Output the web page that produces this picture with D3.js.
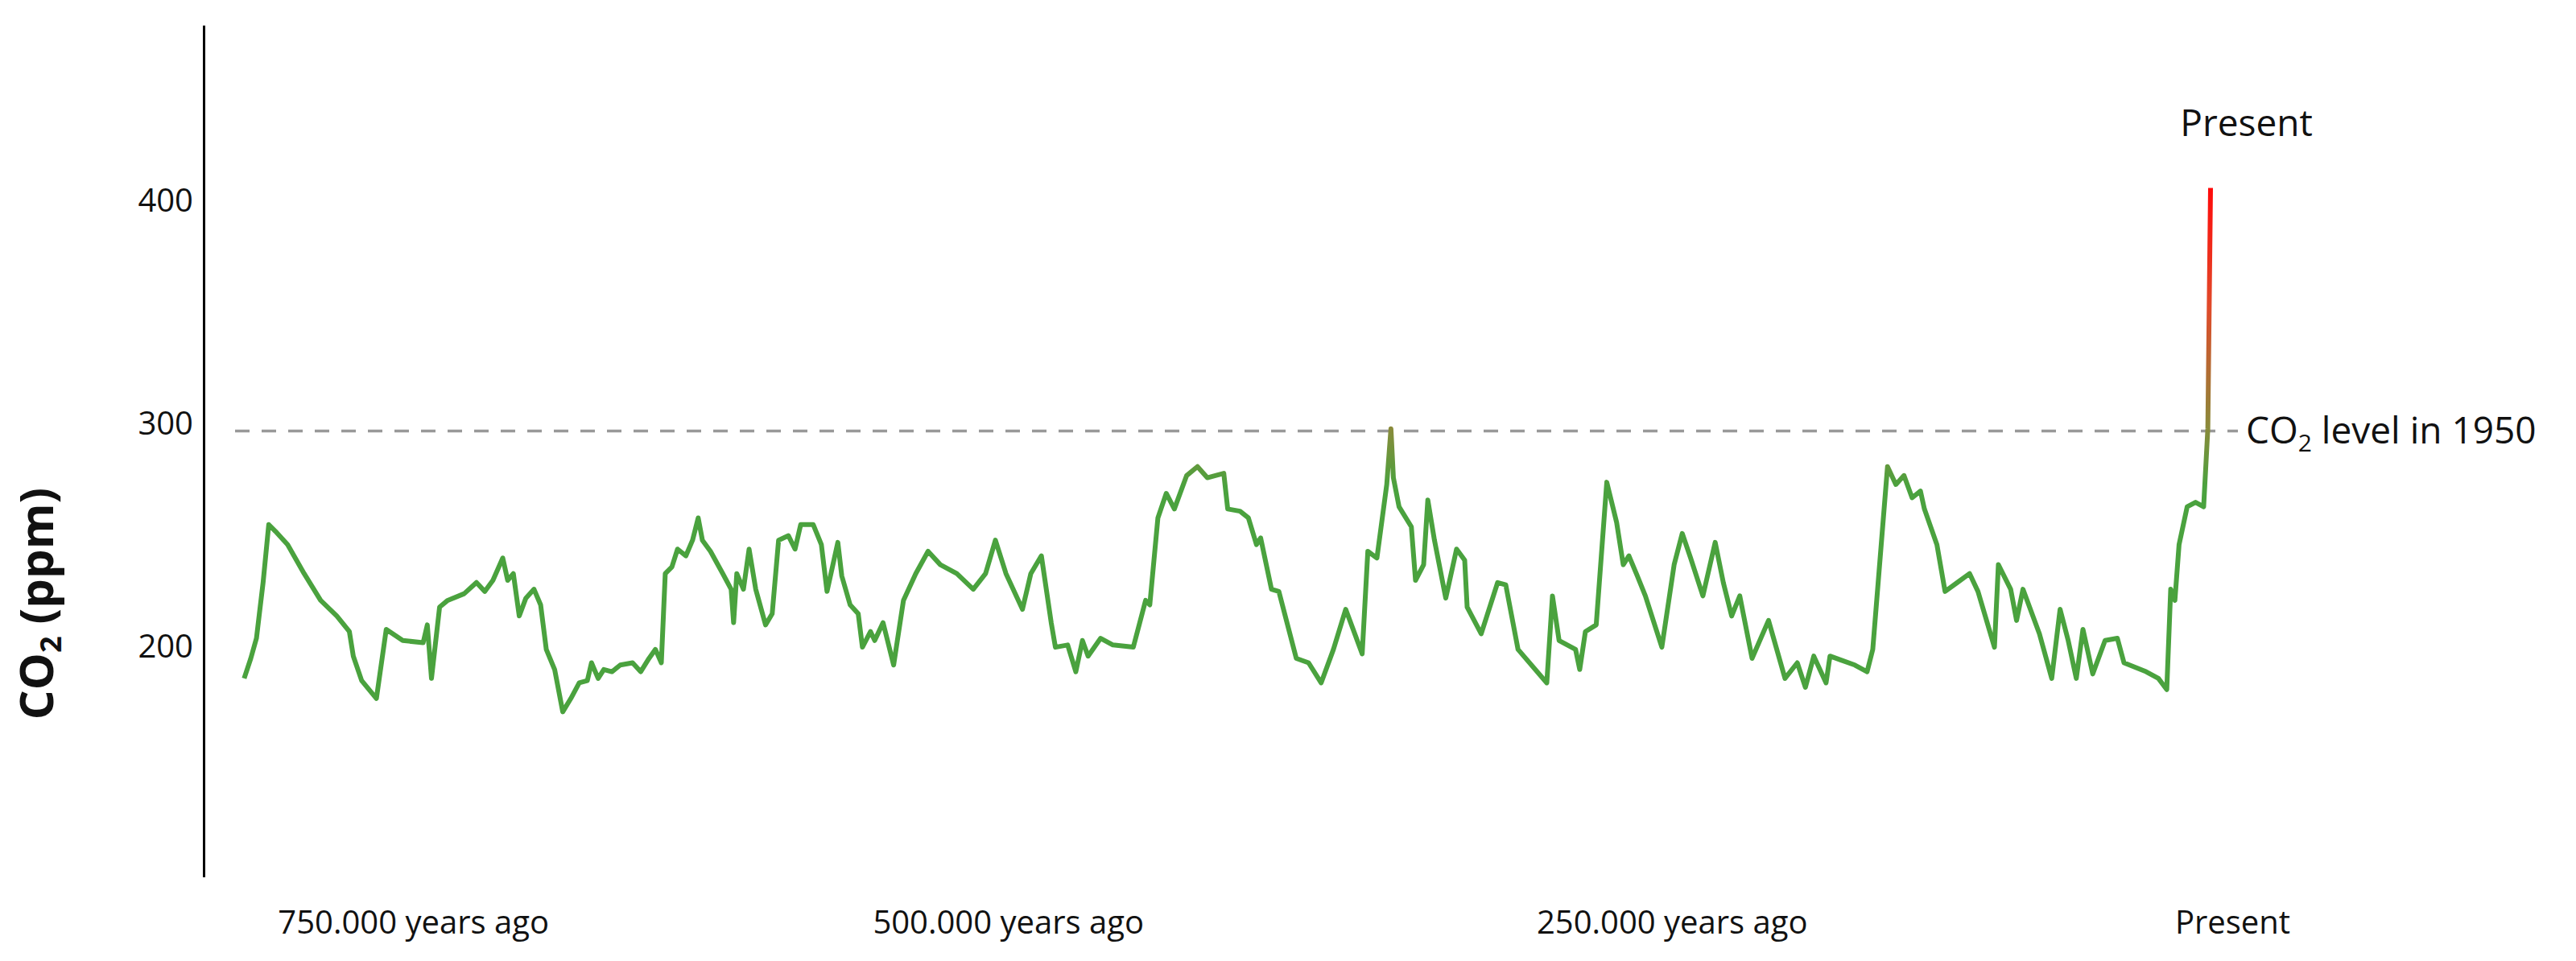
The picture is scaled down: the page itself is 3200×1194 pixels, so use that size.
<!DOCTYPE html>
<html><head><meta charset="utf-8">
<script src="https://cdn.jsdelivr.net/npm/d3@7"></script>
<style>body{margin:0;background:#fff}text{font-family:"Open Sans",sans-serif}</style>
</head><body><svg id="c" width="3200" height="1194"></svg>
<script>
const ages=[799.9,797.2,794.9,792.2,789.9,787.2,782.2,775.5,768.8,762.2,757.1,755.5,752.1,746.1,742.1,735.4,727.1,725.4,723.7,720.4,717.1,710.4,705.4,702.0,698.7,694.7,692.7,690.4,688.0,685.3,682.0,679.3,677.0,673.6,670.3,667.0,663.6,660.3,658.6,655.9,653.6,650.3,646.9,641.9,638.6,635.2,632.6,630.2,628.6,625.9,623.6,620.2,617.5,615.2,613.5,610.2,605.2,601.8,600.8,599.5,596.8,594.5,591.8,587.8,585.1,582.5,578.5,575.8,573.5,568.4,565.1,562.8,558.4,556.8,553.4,550.1,548.4,545.1,543.4,540.0,535.7,531.7,526.7,521.7,516.7,510.0,503.3,498.3,494.3,490.0,483.3,479.9,475.6,471.6,469.9,464.9,461.6,458.9,456.6,451.5,446.5,438.2,433.2,431.5,428.2,424.8,421.5,416.5,412.1,408.1,404.8,401.4,399.8,394.8,391.4,388.1,386.4,382.0,379.0,371.9,366.9,361.8,356.8,351.8,345.1,342.8,339.1,335.1,333.4,332.4,330.1,325.1,323.4,320.1,318.4,315.7,311.1,306.7,303.4,302.4,296.7,290.0,286.7,281.7,270.0,267.7,265.0,258.3,256.6,254.3,249.9,245.6,241.6,238.9,236.6,233.2,229.9,223.2,218.2,214.9,211.5,206.5,201.5,198.2,194.8,191.5,186.5,179.8,173.1,168.1,164.8,161.4,156.4,154.8,144.7,139.7,137.4,131.4,128.0,124.7,121.4,118.0,116.4,111.3,108.0,103.0,98.0,94.6,87.9,86.3,81.3,78.9,76.3,69.6,64.6,61.2,57.9,54.6,51.9,47.9,42.9,37.9,35.2,26.2,21.2,17.8,16.2,14.5,12.8,9.5,6.1,2.8,1.1,0];
const co2=[189,198,207,232,258,255,249,236,224,217,210,199,188,180,211,206,205,213,189,221,224,227,232,228,233,243,233,236,217,225,229,222,202,193,174,180,187,188,196,189,193,192,195,196,192,198,202,196,236,239,247,244,251,261,251,246,236,229,214,236,229,247,229,213,218,251,253,247,258,258,249,228,250,235,222,218,203,210,206,214,195,224,236,246,240,236,229,236,251,236,220,236,244,214,203,204,192,206,199,207,204,203,224,222,261,272,265,280,284,279,280,281,265,264,261,249,252,229,228,198,196,187,202,220,200,246,243,276,301,279,266,257,233,240,269,251,225,247,242,221,209,232,231,202,187,226,206,202,193,210,213,277,259,240,244,235,226,203,240,254,243,226,250,232,217,226,198,215,189,196,185,199,187,199,195,192,202,284,276,280,270,273,265,249,228,232,236,228,203,240,229,215,229,209,189,220,206,189,211,191,206,207,196,192,189,184,229,224,249,266,268,266,301,409];
const yTicks=[200,300,400];
const xLabels=["750.000 years ago","500.000 years ago","250.000 years ago","Present"];
const xLabelAges=[731,489,219,-9];
const refLevel=300;

const svg=d3.select("#c");
const x=d3.scaleLinear().domain([800,0]).range([303,2746]);
const y=d3.scaleLinear().domain([100,482]).range([1089.4,31.3]);

const defs=svg.append("defs");
const g=defs.append("linearGradient").attr("id","gr").attr("gradientUnits","userSpaceOnUse")
 .attr("x1",0).attr("x2",0).attr("y1",y(275)).attr("y2",y(409));
g.append("stop").attr("offset","0").attr("stop-color","#4aa23e");
g.append("stop").attr("offset","0.2").attr("stop-color","#8a8a3a");
g.append("stop").attr("offset","0.6").attr("stop-color","#e04a2a");
g.append("stop").attr("offset","1").attr("stop-color","#ff0a0a");

// dashed reference
svg.append("line").attr("x1",292).attr("x2",2780).attr("y1",y(refLevel)).attr("y2",y(refLevel))
 .attr("stroke","#999").attr("stroke-width",3.5).attr("stroke-dasharray","18,15");

const data=ages.map((a,i)=>[a,co2[i]]);
svg.append("path").datum(data).attr("fill","none").attr("stroke","url(#gr)")
 .attr("stroke-width",6).attr("stroke-linejoin","round")
 .attr("d",d3.line().x(d=>x(d[0])).y(d=>y(d[1])));

// y axis
const ax=svg.append("g").attr("transform","translate(253,0)")
 .call(d3.axisLeft(y).tickValues(yTicks).tickSize(0).tickPadding(13));
ax.select(".domain").attr("stroke","#000").attr("stroke-width",3);
ax.selectAll("text").attr("font-size",40).attr("font-family","Open Sans").attr("fill","#111").attr("dy","0.1em");

// y title
const t=svg.append("text").attr("transform","translate(66,750) rotate(-90)").attr("text-anchor","middle")
 .attr("font-size",58).attr("font-weight","bold").attr("fill","#111");
t.append("tspan").text("CO");
t.append("tspan").text("2").attr("font-size",36).attr("dy",10);
t.append("tspan").text(" (ppm)").attr("dy",-10);

// x labels
svg.selectAll(".xl").data(xLabels).join("text").attr("class","xl")
 .attr("x",(d,i)=>x(xLabelAges[i])).attr("y",1160).attr("text-anchor","middle")
 .attr("font-size",40).attr("fill","#111").text(d=>d);

svg.append("text").attr("x",x(-14.6)).attr("y",169).attr("text-anchor","middle")
 .attr("font-size",46).attr("fill","#111").text("Present");

const l=svg.append("text").attr("x",2790).attr("y",y(refLevel)+16).attr("font-size",46).attr("fill","#111");
l.append("tspan").text("CO");
l.append("tspan").text("2").attr("font-size",30).attr("dy",10);
l.append("tspan").text(" level in 1950").attr("dy",-10);
</script></body></html>
